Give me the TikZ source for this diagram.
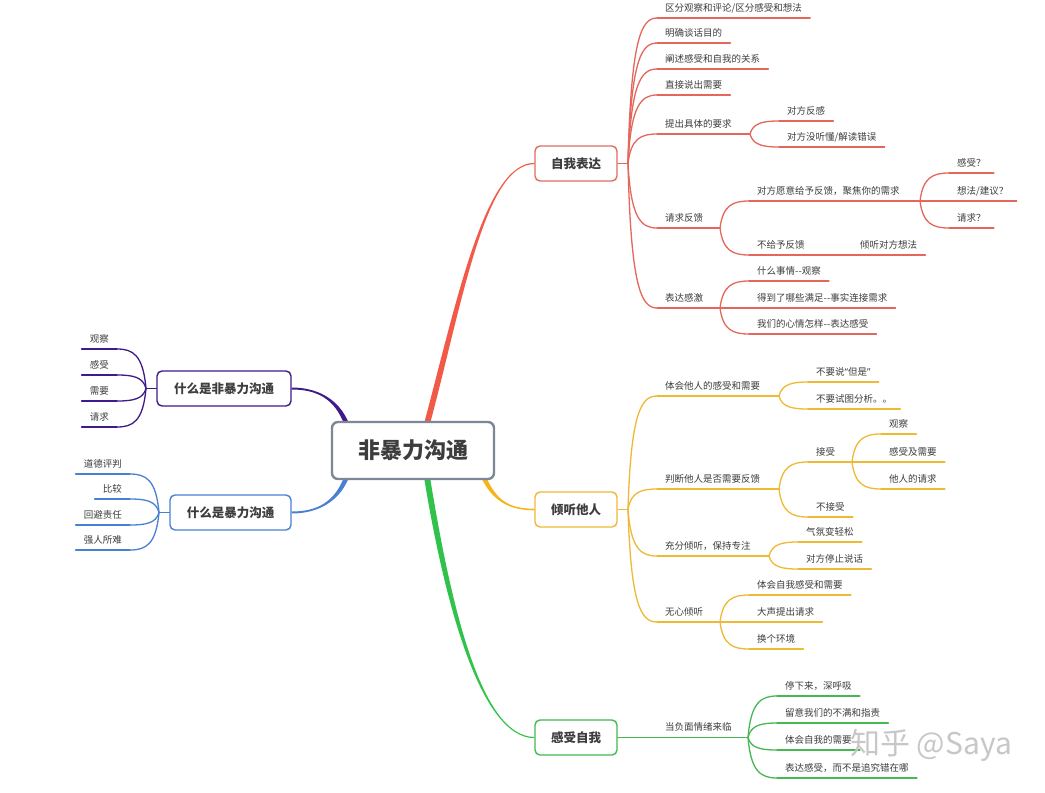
\documentclass[tikz,border=0pt]{standalone}
\usepackage{fontspec}
\setmainfont{Noto Sans CJK SC}
\newfontfamily\latinf{Noto Sans}
\usetikzlibrary{calc}
\pgfdeclarelayer{bg}
\pgfsetlayers{bg,main}
\definecolor{cred}{HTML}{F25A48}
\definecolor{credsub}{HTML}{E5675B}
\definecolor{credbox}{HTML}{E06D63}
\definecolor{cyel}{HTML}{F4B41A}
\definecolor{cyelsub}{HTML}{F0B935}
\definecolor{cgrn}{HTML}{30C24A}
\definecolor{cgrnsub}{HTML}{45B854}
\definecolor{cpur}{HTML}{3F1A8A}
\definecolor{cblu}{HTML}{4A80D4}
\definecolor{croot}{HTML}{7E8796}
\definecolor{ctext}{HTML}{3D3D3D}
\newcommand\leaffont{\fontsize{9.5}{11}\selectfont}
\newcommand\boxfont{\fontsize{12.5}{14}\selectfont\bfseries}
\newcommand\conn[3]{\draw[#1] let \p1=(#2), \p2=(#3) in (\p1) .. controls ({\x1+0.1*(\x2-\x1)},{\y2+0.15*(\y1-\y2)}) and ({\x1+0.45*(\x2-\x1)},\y2) .. (\p2);}
\newcommand\taper[7]{\fill[#1] ($(#2)+({-0.5*(#6)},0)$) .. controls ($(#3)+({-0.5*(#6)},0)$) and ($(#4)+(0,{-0.5*(#7)})$) .. ($(#5)+(0,{-0.5*(#7)})$) -- ($(#5)+(0,{0.5*(#7)})$) .. controls ($(#4)+(0,{0.5*(#7)})$) and ($(#3)+({0.5*(#6)},0)$) .. ($(#2)+({0.5*(#6)},0)$) -- cycle;}
\begin{document}
\begin{tikzpicture}[x=1pt,y=-1pt,
  leaf/.style={anchor=south west, inner xsep=8pt, inner ysep=0pt, text depth=6.5pt, font=\leaffont, text=ctext},
  leafl/.style={leaf, anchor=south east},
  subbox/.style={draw, fill=white, rounded corners=5pt, line width=1.4pt, minimum height=35pt, inner xsep=6pt, font=\boxfont, text=ctext},
  rootbox/.style={draw=croot, fill=white, rounded corners=6pt, line width=2.4pt, minimum width=162pt, minimum height=57pt, font=\fontsize{22}{24}\selectfont\bfseries, text=ctext},
  rl/.style={draw=credsub, line width=1.3pt, line cap=round},
  yl/.style={draw=cyelsub, line width=1.3pt, line cap=round},
  gl/.style={draw=cgrnsub, line width=1.3pt, line cap=round},
  pl/.style={draw=cpur, line width=1.3pt, line cap=round},
  bll/.style={draw=cblu, line width=1.3pt, line cap=round}]
\useasboundingbox (0,0) rectangle (1045,793);
% main boxes
\node[rootbox] (root) at (413,450.5) {非暴力沟通};
\node[subbox, draw=credbox, minimum width=82pt] (zwbd) at (576,163.5) {自我表达};
\node[subbox, draw=cyelsub, minimum width=82pt] (qtr) at (576,509.5) {倾听他人};
\node[subbox, draw=cgrnsub, minimum width=82pt] (gszw) at (576,737.5) {感受自我};
\node[subbox, draw=cpur, minimum width=134pt] (fbl) at (224,388.5) {什么是非暴力沟通};
\node[subbox, draw=cblu, minimum width=121pt] (bl) at (230.5,512.5) {什么是暴力沟通};
% red subtree
\coordinate (F0) at (628,163.5);
\node[leaf] (r1) at (657,18) {区分观察和评论/区分感受和想法};
\node[leaf] (r2) at (657,43) {明确谈话目的};
\node[leaf] (r3) at (657,69) {阐述感受和自我的关系};
\node[leaf] (r4) at (657,95) {直接说出需要};
\node[leaf] (r5) at (657,134) {提出具体的要求};
\coordinate (F5) at (750,134);
\node[leaf] (r51) at (779,121) {对方反感};
\node[leaf] (r52) at (779,147) {对方没听懂/解读错误};
\node[leaf] (r6) at (657,228) {请求反馈};
\coordinate (F6) at (720,228);
\node[leaf] (r61) at (749,201) {对方愿意给予反馈，聚焦你的需求};
\coordinate (F61) at (920,201);
\node[leaf] (r611) at (949,173) {感受？};
\node[leaf] (r612) at (949,201) {想法/建议？};
\node[leaf] (r613) at (949,228) {请求？};
\node[leaf] (r62) at (749,255) {不给予反馈};
\coordinate (F62) at (823,255);
\node[leaf] (r621) at (852,255) {倾听对方想法};
\node[leaf] (r7) at (657,308) {表达感激};
\coordinate (F7) at (720,308);
\node[leaf] (r71) at (749,281) {什么事情-{}-观察};
\node[leaf] (r72) at (749,308) {得到了哪些满足-{}-事实连接需求};
\node[leaf] (r73) at (749,334) {我们的心情怎样-{}-表达感受};
% yellow subtree
\coordinate (Y0) at (628,509.5);
\node[leaf] (y1) at (657,396) {体会他人的感受和需要};
\coordinate (Y1) at (779,396);
\node[leaf] (y11) at (808,382) {不要说{\latinf “}但是{\latinf ”}};
\node[leaf] (y12) at (808,409) {不要试图分析。。};
\node[leaf] (y2) at (657,489) {判断他人是否需要反馈};
\coordinate (Y2) at (779,489);
\node[leaf] (y21) at (808,462) {接受};
\coordinate (Y21) at (852,462);
\node[leaf] (y211) at (881,434) {观察};
\node[leaf] (y212) at (881,462) {感受及需要};
\node[leaf] (y213) at (881,489) {他人的请求};
\node[leaf] (y22) at (808,517) {不接受};
\node[leaf] (y3) at (657,556) {充分倾听，保持专注};
\coordinate (Y3) at (769,556);
\node[leaf] (y31) at (798,542) {气氛变轻松};
\node[leaf] (y32) at (798,569) {对方停止说话};
\node[leaf] (y4) at (657,622) {无心倾听};
\coordinate (Y4) at (720,622);
\node[leaf] (y41) at (749,595) {体会自我感受和需要};
\node[leaf] (y42) at (749,622) {大声提出请求};
\node[leaf] (y43) at (749,649) {换个环境};
% green subtree
\coordinate (G0) at (628,737.5);
\node[leaf] (g1) at (657,737.5) {当负面情绪来临};
\coordinate (G1) at (748,737.5);
\node[leaf] (g11) at (777,696) {停下来，深呼吸};
\node[leaf] (g12) at (777,723) {留意我们的不满和指责};
\node[leaf] (g13) at (777,750) {体会自我的需要};
\node[leaf] (g14) at (777,778) {表达感受，而不是追究错在哪};
% purple subtree
\coordinate (P0) at (146,388.5);
\node[leafl] (p1) at (117,349) {观察};
\node[leafl] (p2) at (117,375) {感受};
\node[leafl] (p3) at (117,401) {需要};
\node[leafl] (p4) at (117,427) {请求};
% blue subtree
\coordinate (B0) at (159,512.5);
\node[leafl] (b1) at (130,474) {道德评判};
\node[leafl] (b2) at (130,499) {比较};
\node[leafl] (b3) at (130,525) {回避责任};
\node[leafl] (b4) at (130,550) {强人所难};
\begin{pgfonlayer}{bg}
  \fill[white] (0,0) rectangle (1045,793);
  \coordinate (rs) at ($(root.north)+(14,3)$);
  \coordinate (gs) at ($(root.south)+(14,-3)$);
  \coordinate (ys) at (483,476);
  \coordinate (ps) at (347,425);
  \coordinate (bs) at (347,476);
  \taper{cred}{rs}{460,300}{485,163.5}{zwbd.west}{6}{1.2}
  \taper{cgrn}{gs}{447,600}{480,737.5}{gszw.west}{6}{-1.2}
  \taper{cyel}{ys}{494,500}{508,509.5}{qtr.west}{5}{-1.6}
  \taper{cpur}{ps}{337,398}{316,388.5}{fbl.east}{-5}{2}
  \taper{cblu}{bs}{337,503}{316,512.5}{bl.east}{-5}{-2}
  % red
  \draw[rl] (zwbd.east) -- (F0);
  \foreach \k in {r1,r2,r3,r4,r5,r6,r7} {\conn{rl}{F0}{\k.south west}}
  \foreach \k in {r51,r52} {\conn{rl}{F5}{\k.south west}}
  \foreach \k in {r61,r62} {\conn{rl}{F6}{\k.south west}}
  \foreach \k in {r611,r612,r613} {\conn{rl}{F61}{\k.south west}}
  \conn{rl}{F62}{r621.south west}
  \foreach \k in {r71,r72,r73} {\conn{rl}{F7}{\k.south west}}
  \foreach \k in {r1,r2,r3,r4,r51,r52,r611,r612,r613,r621,r71,r72,r73} {\draw[rl] (\k.south west) -- (\k.south east);}
  \draw[rl] (r5.south west) -- (F5);
  \draw[rl] (r6.south west) -- (F6);
  \draw[rl] (r61.south west) -- (F61);
  \draw[rl] (r62.south west) -- (F62);
  \draw[rl] (r7.south west) -- (F7);
  % yellow
  \draw[yl] (qtr.east) -- (Y0);
  \foreach \k in {y1,y2,y3,y4} {\conn{yl}{Y0}{\k.south west}}
  \foreach \k in {y11,y12} {\conn{yl}{Y1}{\k.south west}}
  \foreach \k in {y21,y22} {\conn{yl}{Y2}{\k.south west}}
  \foreach \k in {y211,y212,y213} {\conn{yl}{Y21}{\k.south west}}
  \foreach \k in {y31,y32} {\conn{yl}{Y3}{\k.south west}}
  \foreach \k in {y41,y42,y43} {\conn{yl}{Y4}{\k.south west}}
  \foreach \k in {y11,y12,y211,y212,y213,y22,y31,y32,y41,y42,y43} {\draw[yl] (\k.south west) -- (\k.south east);}
  \draw[yl] (y1.south west) -- (Y1);
  \draw[yl] (y2.south west) -- (Y2);
  \draw[yl] (y21.south west) -- (Y21);
  \draw[yl] (y3.south west) -- (Y3);
  \draw[yl] (y4.south west) -- (Y4);
  % green
  \draw[gl] (gszw.east) -- (G0);
  \draw[gl] (G0) -- (g1.south west);
  \draw[gl] (g1.south west) -- (G1);
  \foreach \k in {g11,g12,g13,g14} {\conn{gl}{G1}{\k.south west}\draw[gl] (\k.south west) -- (\k.south east);}
  % purple
  \draw[pl] (fbl.west) -- (P0);
  \foreach \k in {p1,p2,p3,p4} {\conn{pl}{P0}{\k.south east}\draw[pl] (\k.south east) -- (\k.south west);}
  % blue
  \draw[bll] (bl.west) -- (B0);
  \foreach \k in {b1,b2,b3,b4} {\conn{bll}{B0}{\k.south east}\draw[bll] (\k.south east) -- (\k.south west);}
\end{pgfonlayer}
% watermark
\node[font=\fontsize{30}{32}\selectfont, text=black!22, inner sep=0pt] (wm) at (931,745) {知乎 @Saya};
\end{tikzpicture}
\end{document}
